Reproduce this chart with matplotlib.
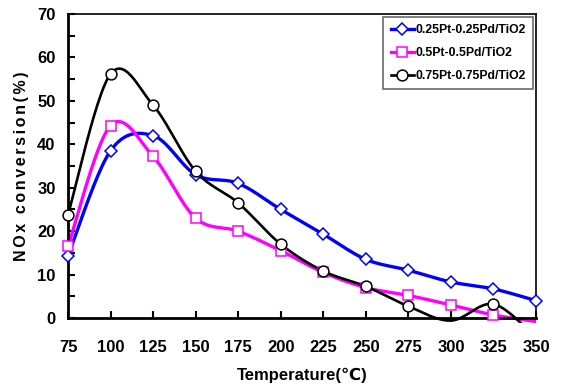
import numpy as np
import matplotlib
matplotlib.use("Agg")
import matplotlib.pyplot as plt
from matplotlib.patches import Rectangle

plt.rcParams['font.family'] = ['Liberation Sans', 'DejaVu Sans']
plt.rcParams['font.weight'] = 'bold'

temps = [75, 100, 125, 150, 175, 200, 225, 250, 275, 300, 325, 350]
s1_name = "0.25Pt-0.25Pd/TiO2"
s1 = [14.3, 38.5, 42.0, 33.0, 31.0, 25.0, 19.3, 13.5, 11.0, 8.3, 6.7, 4.0]
s2_name = "0.5Pt-0.5Pd/TiO2"
s2 = [16.5, 44.3, 37.2, 23.0, 20.0, 15.5, 10.5, 7.0, 5.2, 3.0, 0.7, -0.8]
s3_name = "0.75Pt-0.75Pd/TiO2"
s3 = [23.8, 56.2, 49.0, 33.8, 26.5, 17.0, 10.8, 7.3, 2.7, -0.6, 3.2, -4.5]

xticks = [75, 100, 125, 150, 175, 200, 225, 250, 275, 300, 325, 350]
yticks = [0, 10, 20, 30, 40, 50, 60, 70]
xlabel = 'Temperature(℃)'
ylabel = 'NOx conversion(%)'


def smooth(x, y, n=30):
    x = np.asarray(x, float); y = np.asarray(y, float)
    P = np.column_stack([x, y])
    P = np.vstack([P[0], P, P[-1]])
    out = []
    t = np.linspace(0, 1, n)[:, None]
    for i in range(1, len(P) - 2):
        p0, p1, p2, p3 = P[i - 1], P[i], P[i + 1], P[i + 2]
        c1 = p1 + (p2 - p0) / 6.0
        c2 = p2 - (p3 - p1) / 6.0
        seg = ((1 - t) ** 3) * p1 + 3 * ((1 - t) ** 2) * t * c1 + 3 * (1 - t) * t ** 2 * c2 + t ** 3 * p2
        out.append(seg if i == 1 else seg[1:])
    out = np.vstack(out)
    return out[:, 0], out[:, 1]


fig = plt.figure(figsize=(5.61, 3.87), dpi=100)
ax = fig.add_axes([68 / 561, 1 - 318 / 387, (536 - 68) / 561, (318 - 14) / 387])

series = [
    (s1, s1_name, '#0000FF', 'D', 6.5, 2.4),
    (s2, s2_name, '#FF00FF', 's', 7.0, 2.4),
    (s3, s3_name, '#000000', 'o', 7.8, 1.9),
]

clip = Rectangle((0, -0.016), 1, 1.016, transform=ax.transAxes, facecolor='none', edgecolor='none')
ax.add_patch(clip)

for ys, name, col, mk, ms, lw in series:
    sx, sy = smooth(temps, ys)
    ln, = ax.plot(sx, sy, color=col, lw=lw, zorder=2)
    ln.set_clip_path(clip)
    xa = np.array(temps, float); ya = np.array(ys, float)
    m = ya >= 0
    ax.plot(xa[m], ya[m], linestyle='none', marker=mk, ms=ms, mfc='white',
            mec=col, mew=1.1, zorder=3, clip_on=False)
    ax.plot([], [], color=col, lw=lw, marker=mk, ms=ms, mfc='white', mec=col, mew=1.1, label=name)

ax.set_xlim(75, 350)
ax.set_ylim(0, 70)
ax.set_xticks(xticks)
ax.set_yticks(yticks)
ax.set_yticks(np.arange(0, 71, 5), minor=True)
ax.tick_params(axis='x', direction='in', length=5, width=1.5, pad=16, labelsize=12)
ax.tick_params(axis='y', which='both', direction='in', length=5, width=1.5, pad=9, labelsize=12)
for sp in ax.spines.values():
    sp.set_linewidth(1.2)
ax.spines['left'].set_linewidth(2)
ax.spines['bottom'].set_linewidth(2)
for lab in ax.get_xticklabels() + ax.get_yticklabels():
    lab.set_fontweight('bold')

ax.set_xlabel(xlabel, fontsize=12, fontweight='bold', labelpad=9)
ax.set_ylabel('\u2006'.join(ylabel), fontsize=11.5, fontweight='bold', labelpad=6)

leg = ax.legend(loc='upper right', bbox_to_anchor=(0.997, 0.995),
                prop={'weight': 'bold', 'size': 8.8}, frameon=True, fancybox=False,
                edgecolor='#444444', handlelength=1.9, handletextpad=0.15,
                borderpad=0.6, labelspacing=0.9, borderaxespad=0.1)
leg.get_frame().set_linewidth(1.2)

fig.savefig('out.png', dpi=100)
